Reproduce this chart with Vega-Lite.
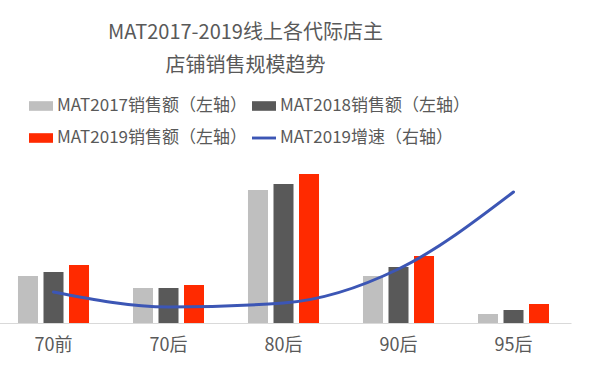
{
  "$schema": "https://vega.github.io/schema/vega-lite/v6.json",
  "width": 575,
  "height": 160,
  "autosize": {"type": "none"},
  "padding": {"left": -4, "top": 163, "right": 27, "bottom": 42},
  "background": "white",
  "config": {
    "view": {"stroke": null},
    "font": "Noto Sans CJK SC"
  },
  "title": {
    "text": ["MAT2017-2019线上各代际店主", "店铺销售规模趋势"],
    "font": "Noto Sans CJK SC",
    "fontSize": 20,
    "fontWeight": "normal",
    "color": "#595959",
    "lineHeight": 33,
    "anchor": "middle",
    "dx": -38,
    "offset": 18
  },
  "datasets": {
    "sales": [
      {"cat": "70前", "series": "MAT2017销售额（左轴）", "value": 47},
      {"cat": "70前", "series": "MAT2018销售额（左轴）", "value": 51},
      {"cat": "70前", "series": "MAT2019销售额（左轴）", "value": 58},
      {"cat": "70后", "series": "MAT2017销售额（左轴）", "value": 35},
      {"cat": "70后", "series": "MAT2018销售额（左轴）", "value": 35},
      {"cat": "70后", "series": "MAT2019销售额（左轴）", "value": 38},
      {"cat": "80后", "series": "MAT2017销售额（左轴）", "value": 133},
      {"cat": "80后", "series": "MAT2018销售额（左轴）", "value": 139},
      {"cat": "80后", "series": "MAT2019销售额（左轴）", "value": 149},
      {"cat": "90后", "series": "MAT2017销售额（左轴）", "value": 47},
      {"cat": "90后", "series": "MAT2018销售额（左轴）", "value": 56},
      {"cat": "90后", "series": "MAT2019销售额（左轴）", "value": 67},
      {"cat": "95后", "series": "MAT2017销售额（左轴）", "value": 9},
      {"cat": "95后", "series": "MAT2018销售额（左轴）", "value": 13},
      {"cat": "95后", "series": "MAT2019销售额（左轴）", "value": 19}
    ],
    "growth": [
      {"cat": "70前", "growth": 31},
      {"cat": "70后", "growth": 16},
      {"cat": "80后", "growth": 20},
      {"cat": "90后", "growth": 54},
      {"cat": "95后", "growth": 131}
    ]
  },
  "layer": [
    {
      "data": {"name": "sales"},
      "mark": {"type": "bar"},
      "encoding": {
        "x": {
          "field": "cat", "type": "nominal",
          "sort": ["70前", "70后", "80后", "90后", "95后"],
          "scale": {"paddingInner": 0.35, "paddingOuter": 0.175},
          "axis": {
            "title": null, "labelAngle": 0, "ticks": false, "grid": false,
            "domainColor": "#d9d9d9", "domainWidth": 1,
            "labelFont": "Noto Sans CJK SC", "labelFontSize": 18,
            "labelColor": "#595959", "labelPadding": 13
          }
        },
        "xOffset": {
          "field": "series", "type": "nominal",
          "sort": ["MAT2017销售额（左轴）", "MAT2018销售额（左轴）", "MAT2019销售额（左轴）"],
          "scale": {"paddingInner": 0.216, "paddingOuter": 0.073}
        },
        "y": {
          "field": "value", "type": "quantitative",
          "scale": {"domain": [0, 160]},
          "axis": null
        },
        "color": {
          "field": "series", "type": "nominal",
          "scale": {
            "domain": ["MAT2017销售额（左轴）", "MAT2018销售额（左轴）", "MAT2019销售额（左轴）", "MAT2019增速（右轴）"],
            "range": ["#bfbfbf", "#595959", "#ff2a00", "#3c56b5"]
          },
          "legend": {
            "title": null,
            "orient": "none",
            "legendX": 33,
            "legendY": -69,
            "direction": "horizontal",
            "columns": 2,
            "columnPadding": 4,
            "rowPadding": 12,
            "padding": 0,
            "labelFont": "Noto Sans CJK SC",
            "labelFontSize": 17,
            "labelColor": "#595959",
            "labelLimit": 300,
            "labelOffset": 4,
            "symbolSize": 576,
            "symbolStrokeWidth": 0,
            "encode": {
              "symbols": {
                "update": {
                  "shape": {"signal": "datum.value === 'MAT2019增速（右轴）' ? 'M-1,-0.12H1V0.12H-1Z' : 'M-1,-0.4H1V0.4H-1Z'"},
                  "fill": {"signal": "scale('color', datum.value)"},
                  "stroke": {"value": "transparent"},
                  "opacity": {"value": 1}
                }
              }
            }
          }
        }
      }
    },
    {
      "data": {"name": "growth"},
      "mark": {"type": "line", "interpolate": "monotone", "strokeWidth": 3, "strokeCap": "round"},
      "encoding": {
        "x": {"field": "cat", "type": "nominal", "sort": ["70前", "70后", "80后", "90后", "95后"]},
        "y": {
          "field": "growth", "type": "quantitative",
          "scale": {"domain": [0, 160]},
          "axis": null
        },
        "color": {"datum": "MAT2019增速（右轴）"}
      }
    }
  ],
  "resolve": {"scale": {"y": "independent"}}
}
